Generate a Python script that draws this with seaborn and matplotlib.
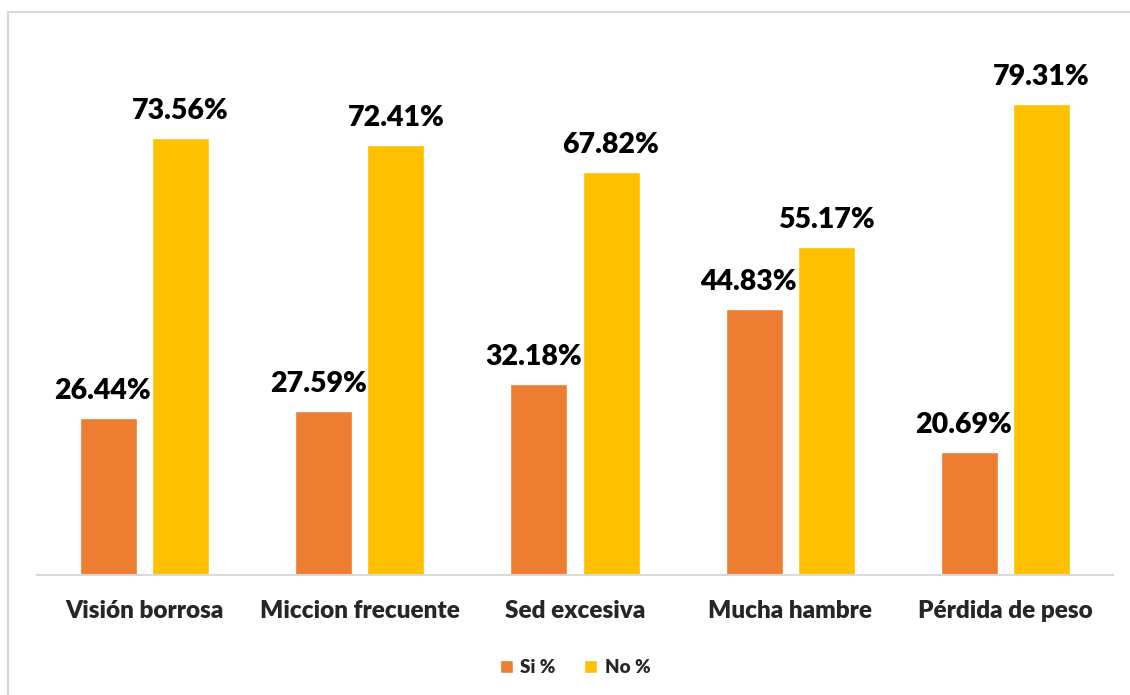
import pandas as pd
import seaborn as sns
from matplotlib import pyplot as plt
from matplotlib.patches import Rectangle

categorias = ["Visión borrosa", "Miccion frecuente", "Sed excesiva", "Mucha hambre", "Pérdida de peso"]
si = [26.44, 27.59, 32.18, 44.83, 20.69]
no = [73.56, 72.41, 67.82, 55.17, 79.31]
series = ["Si %", "No %"]
colores = ["#ED7D31", "#FFC000"]

df = pd.DataFrame({
    "sintoma": categorias * 2,
    "serie": [series[0]] * 5 + [series[1]] * 5,
    "valor": si + no,
})

sns.set_style("white")
plt.rcParams["font.family"] = ["Lato", "DejaVu Sans"]

fig = plt.figure(figsize=(11.3, 6.95), dpi=100)
ax = fig.add_axes([37 / 1130, 1 - 575 / 695, (1113 - 37) / 1130, (575 - 40) / 695])

sns.barplot(x="sintoma", y="valor", hue="serie", data=df, palette=colores,
            width=0.67, gap=0.21, ax=ax, legend=True, saturation=1)

ax.set_ylim(0, 90)
ax.set_xlim(-0.5, 4.5)
ax.set_xlabel("")
ax.set_ylabel("")
ax.set_yticks([])
for s in ["top", "right", "left"]:
    ax.spines[s].set_visible(False)
ax.spines["bottom"].set_color("#D9D9D9")
ax.spines["bottom"].set_linewidth(1.5)
ax.tick_params(axis="x", length=0, pad=18)
for t in ax.get_xticklabels():
    t.set_fontsize(17.5)
    t.set_fontweight("heavy")

for i, cont in enumerate(ax.containers):
    for bar, v in zip(cont, si if i == 0 else no):
        dx = -4 if i == 0 else 0
        ax.annotate(f"{v:.2f}%", (bar.get_x() + bar.get_width() / 2, bar.get_height()),
                    xytext=(dx, 10), textcoords="offset points", ha="center", va="bottom",
                    fontsize=20.5, fontweight="heavy", color="black")

leg = ax.legend(loc="upper center", bbox_to_anchor=(0.5, -0.125), ncol=2, frameon=False,
                handlelength=0.7, handleheight=0.7, columnspacing=1.5, handletextpad=0.4,
                prop={"weight": "heavy", "size": 13.5})

fig.patches.append(Rectangle((8 / 1130, -0.01), 1.1, 1 - 12 / 695 + 0.01, transform=fig.transFigure,
                             fill=False, edgecolor="#D9D9D9", linewidth=1.5))

plt.savefig("out.png", dpi=100)
